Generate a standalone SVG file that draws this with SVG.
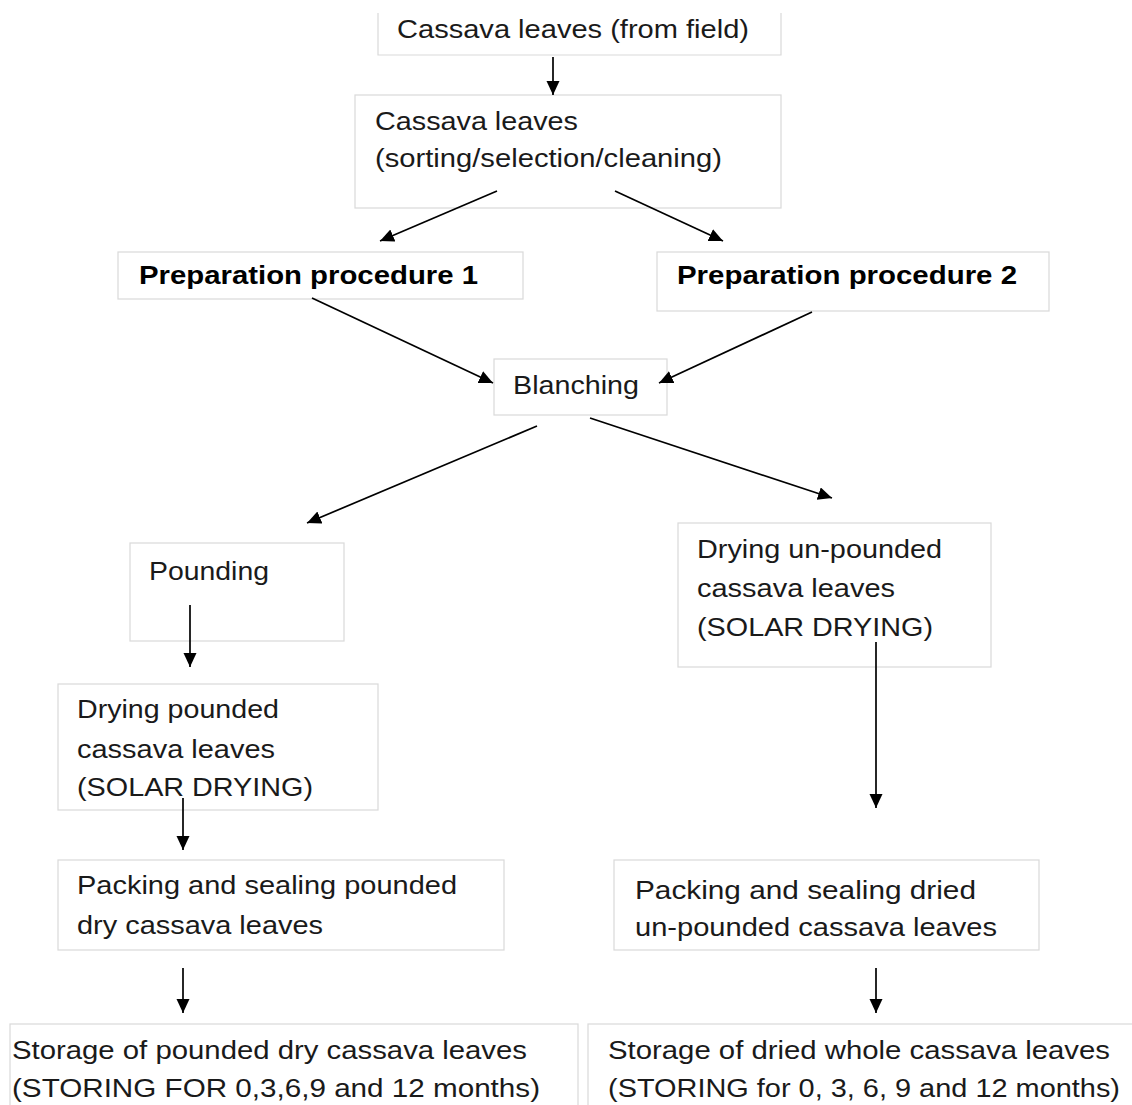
<svg xmlns="http://www.w3.org/2000/svg" width="1132" height="1105" viewBox="0 0 1132 1105">
<style>
.box{fill:#fff;stroke:#d9d9d9;stroke-width:1.2}
.t{font-family:"Liberation Sans",Arial,sans-serif;font-size:25px;fill:#1a1a1a}
.b{font-family:"Liberation Sans",Arial,sans-serif;font-size:25px;font-weight:bold;fill:#000}
.c{stroke:#000;stroke-width:1.7;fill:none;marker-end:url(#ah)}
</style>
<defs>
<marker id="ah" markerUnits="userSpaceOnUse" markerWidth="15" markerHeight="14" refX="14" refY="6.5" orient="auto">
<path d="M0,0 L14,6.5 L0,13 Z" fill="#000"/>
</marker>
</defs>
<rect width="1132" height="1105" fill="#fff"/>
<g id="n1"><path class="box" d="M378,13 V55 H781 V13"/>
<text class="t" x="397" y="38" textLength="352" lengthAdjust="spacingAndGlyphs">Cassava leaves  (from field)</text></g>
<g id="n2"><rect class="box" x="355" y="95" width="426" height="113"/>
<text class="t" x="375" y="130" textLength="203" lengthAdjust="spacingAndGlyphs">Cassava leaves</text>
<text class="t" x="375" y="167" textLength="347" lengthAdjust="spacingAndGlyphs">(sorting/selection/cleaning)</text></g>
<g id="n3"><rect class="box" x="118" y="252" width="405" height="47"/>
<text class="b" x="139" y="284" textLength="339" lengthAdjust="spacingAndGlyphs">Preparation procedure 1</text></g>
<g id="n4"><rect class="box" x="657" y="252" width="392" height="59"/>
<text class="b" x="677" y="284" textLength="340" lengthAdjust="spacingAndGlyphs">Preparation procedure 2</text></g>
<g id="n5"><rect class="box" x="494" y="359" width="173" height="56"/>
<text class="t" x="513" y="394" textLength="126" lengthAdjust="spacingAndGlyphs">Blanching</text></g>
<g id="n6"><rect class="box" x="130" y="543" width="214" height="98"/>
<text class="t" x="149" y="580" textLength="120" lengthAdjust="spacingAndGlyphs">Pounding</text></g>
<g id="n7"><rect class="box" x="678" y="523" width="313" height="144"/>
<text class="t" x="697" y="558" textLength="245" lengthAdjust="spacingAndGlyphs">Drying un-pounded</text>
<text class="t" x="697" y="597" textLength="198" lengthAdjust="spacingAndGlyphs">cassava leaves</text>
<text class="t" x="697" y="636" textLength="236" lengthAdjust="spacingAndGlyphs">(SOLAR DRYING)</text></g>
<g id="n8"><rect class="box" x="58" y="684" width="320" height="126"/>
<text class="t" x="77" y="718" textLength="202" lengthAdjust="spacingAndGlyphs">Drying pounded</text>
<text class="t" x="77" y="758" textLength="198" lengthAdjust="spacingAndGlyphs">cassava leaves</text>
<text class="t" x="77" y="796" textLength="236" lengthAdjust="spacingAndGlyphs">(SOLAR DRYING)</text></g>
<g id="n9"><rect class="box" x="58" y="860" width="446" height="90"/>
<text class="t" x="77" y="894" textLength="380" lengthAdjust="spacingAndGlyphs">Packing and sealing pounded</text>
<text class="t" x="77" y="934" textLength="246" lengthAdjust="spacingAndGlyphs">dry cassava leaves</text></g>
<g id="n10"><rect class="box" x="614" y="860" width="425" height="90"/>
<text class="t" x="635" y="899" textLength="341" lengthAdjust="spacingAndGlyphs">Packing and sealing dried</text>
<text class="t" x="635" y="936" textLength="362" lengthAdjust="spacingAndGlyphs">un-pounded  cassava leaves</text></g>
<g id="n11"><rect class="box" x="10" y="1024" width="568" height="100"/>
<text class="t" x="12" y="1059" textLength="515" lengthAdjust="spacingAndGlyphs">Storage of pounded dry cassava leaves</text>
<text class="t" x="12" y="1097" textLength="528" lengthAdjust="spacingAndGlyphs">(STORING FOR 0,3,6,9 and 12 months)</text></g>
<g id="n12"><rect class="box" x="588" y="1024" width="560" height="100"/>
<text class="t" x="608" y="1059" textLength="502" lengthAdjust="spacingAndGlyphs">Storage of dried whole cassava leaves</text>
<text class="t" x="608" y="1097" textLength="512" lengthAdjust="spacingAndGlyphs">(STORING for 0, 3, 6, 9 and 12 months)</text></g>
<g id="connectors">
<line class="c" x1="553" y1="57" x2="553" y2="95"/>
<line class="c" x1="497" y1="191" x2="380" y2="241"/>
<line class="c" x1="615" y1="191" x2="723" y2="241"/>
<line class="c" x1="312" y1="298" x2="493" y2="383"/>
<line class="c" x1="812" y1="312" x2="659" y2="383"/>
<line class="c" x1="537" y1="426" x2="307" y2="523"/>
<line class="c" x1="590" y1="418" x2="832" y2="498"/>
<line class="c" x1="190" y1="605" x2="190" y2="667"/>
<line class="c" x1="183" y1="798" x2="183" y2="850"/>
<line class="c" x1="876" y1="642" x2="876" y2="808"/>
<line class="c" x1="183" y1="968" x2="183" y2="1013"/>
<line class="c" x1="876" y1="968" x2="876" y2="1013"/>
</g>
</svg>
